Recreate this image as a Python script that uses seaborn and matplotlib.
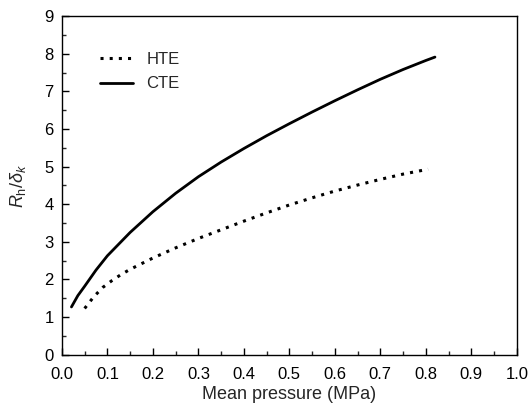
import matplotlib
matplotlib.use("Agg")
import matplotlib.pyplot as plt
import seaborn as sns
import pandas as pd
from matplotlib.ticker import MultipleLocator, FormatStrFormatter

cte_x = [0.021, 0.035, 0.05, 0.075, 0.10, 0.15, 0.20, 0.25, 0.30, 0.35, 0.40,
         0.45, 0.50, 0.55, 0.60, 0.65, 0.70, 0.75, 0.80, 0.82]
cte_y = [1.27, 1.57, 1.82, 2.25, 2.63, 3.25, 3.80, 4.29, 4.73, 5.12, 5.48,
         5.82, 6.14, 6.45, 6.75, 7.04, 7.32, 7.58, 7.82, 7.91]
hte_x = [0.05, 0.07, 0.09, 0.11, 0.13, 0.15, 0.20, 0.25, 0.30, 0.35, 0.40,
         0.45, 0.50, 0.55, 0.60, 0.65, 0.70, 0.75, 0.805]
hte_y = [1.23, 1.54, 1.79, 1.97, 2.13, 2.27, 2.57, 2.84, 3.09, 3.32, 3.55,
         3.77, 3.98, 4.17, 4.35, 4.51, 4.66, 4.80, 4.93]

sns.set_style("ticks")
plt.rcParams['font.family'] = ['Liberation Sans', 'DejaVu Sans']
plt.rcParams['mathtext.fontset'] = 'custom'
plt.rcParams['mathtext.rm'] = 'Liberation Sans'
plt.rcParams['mathtext.it'] = 'Liberation Sans:italic'

hte = pd.DataFrame({"x": hte_x, "y": hte_y})
cte = pd.DataFrame({"x": cte_x, "y": cte_y})

fig = plt.figure(figsize=(5.29, 4.12), dpi=100)
ax = fig.add_axes([0.117, 0.139, 0.860, 0.822])

sns.lineplot(data=hte, x="x", y="y", ax=ax, color="black", lw=2.2,
             linestyle=(0, (1, 2.0)), label="HTE")
sns.lineplot(data=cte, x="x", y="y", ax=ax, color="black", lw=2.0,
             label="CTE")

ax.set_xlim(0, 1.0)
ax.set_ylim(0, 9)
ax.xaxis.set_major_locator(MultipleLocator(0.1))
ax.xaxis.set_minor_locator(MultipleLocator(0.05))
ax.yaxis.set_major_locator(MultipleLocator(1))
ax.yaxis.set_minor_locator(MultipleLocator(0.5))
ax.xaxis.set_major_formatter(FormatStrFormatter('%.1f'))
ax.tick_params(which='major', direction='in', length=5, width=1,
               labelsize=12, colors='black')
ax.tick_params(axis='x', which='major', pad=8.5)
ax.tick_params(axis='y', which='major', pad=6.0)
ax.tick_params(which='minor', direction='in', length=3, width=1)
for s in ax.spines.values():
    s.set_visible(True)
    s.set_linewidth(1.0)
    s.set_color('black')

ax.set_xlabel("Mean pressure (MPa)", fontsize=13, labelpad=3.5)
ax.set_ylabel(r"$R_{\mathrm{h}}/\delta_k$", fontsize=13, labelpad=12)

leg = ax.legend(loc='upper left', bbox_to_anchor=(0.083, 0.893), frameon=False,
                fontsize=12, handlelength=2.0, handletextpad=0.8,
                labelspacing=0.55, borderpad=0, borderaxespad=0)

fig.savefig("out.png", dpi=100)
